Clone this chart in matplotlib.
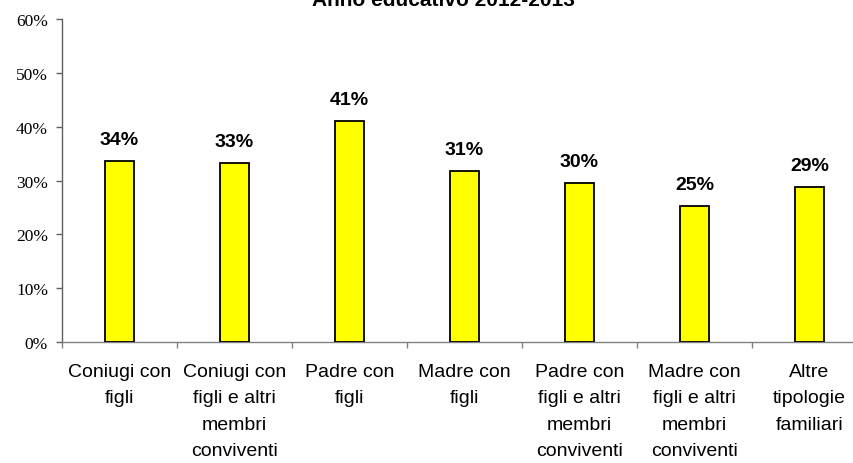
import matplotlib.pyplot as plt
from matplotlib.ticker import MultipleLocator, FixedLocator

categories = [
    "Coniugi con\nfigli",
    "Coniugi con\nfigli e altri\nmembri\nconviventi",
    "Padre con\nfigli",
    "Madre con\nfigli",
    "Padre con\nfigli e altri\nmembri\nconviventi",
    "Madre con\nfigli e altri\nmembri\nconviventi",
    "Altre\ntipologie\nfamiliari",
]
values = [33.7, 33.3, 41.0, 31.7, 29.5, 25.3, 28.8]
labels = ["34%", "33%", "41%", "31%", "30%", "25%", "29%"]
title = "Anno educativo 2012-2013"

fig = plt.figure(figsize=(8.54, 4.64), dpi=100)
# axes spans 62..867 px horizontally (extends past the right edge), 0% at y=343, 60% at y=20
W, H = 854, 464
ax = fig.add_axes([62 / W, (H - 343) / H, (867 - 62) / W, (343 - 20) / H])

x = range(len(values))
ax.bar(x, values, width=0.26, color="#ffff00", edgecolor="black", linewidth=1.3, zorder=3)

for xi, v, lab in zip(x, values, labels):
    ax.text(xi, v + 2.4, lab, ha="center", va="bottom", fontsize=14,
            fontweight="bold", family="Liberation Sans")

ax.set_xlim(-0.5, len(values) - 0.5)
ax.set_ylim(0, 60)
ax.yaxis.set_major_locator(MultipleLocator(10))
ax.set_yticklabels([f"{int(t)}%" for t in ax.get_yticks()], family="Liberation Serif", fontsize=12.5)

ax.xaxis.set_major_locator(FixedLocator([i - 0.5 for i in range(len(values) + 1)]))
ax.xaxis.set_major_formatter(plt.NullFormatter())
ax.set_xticks(list(x), minor=True)
ax.set_xticklabels(categories, minor=True, family="Liberation Sans", fontsize=14, linespacing=1.72)
ax.tick_params(axis="x", which="minor", length=0, pad=15)
ax.tick_params(axis="x", which="major", length=4, direction="out", color="#808080", width=1)
ax.tick_params(axis="y", length=4, direction="out", color="#606060", width=1, pad=6)

for s in ["top", "right"]:
    ax.spines[s].set_visible(False)
ax.spines["left"].set_color("#606060")
ax.spines["bottom"].set_color("#808080")
ax.spines["left"].set_linewidth(1)
ax.spines["bottom"].set_linewidth(1)

fig.text(443 / W, 1 - 6 / H, title, ha="center", va="baseline", fontsize=15,
         fontweight="bold", family="Liberation Sans")

fig.savefig("out.png", dpi=100)
